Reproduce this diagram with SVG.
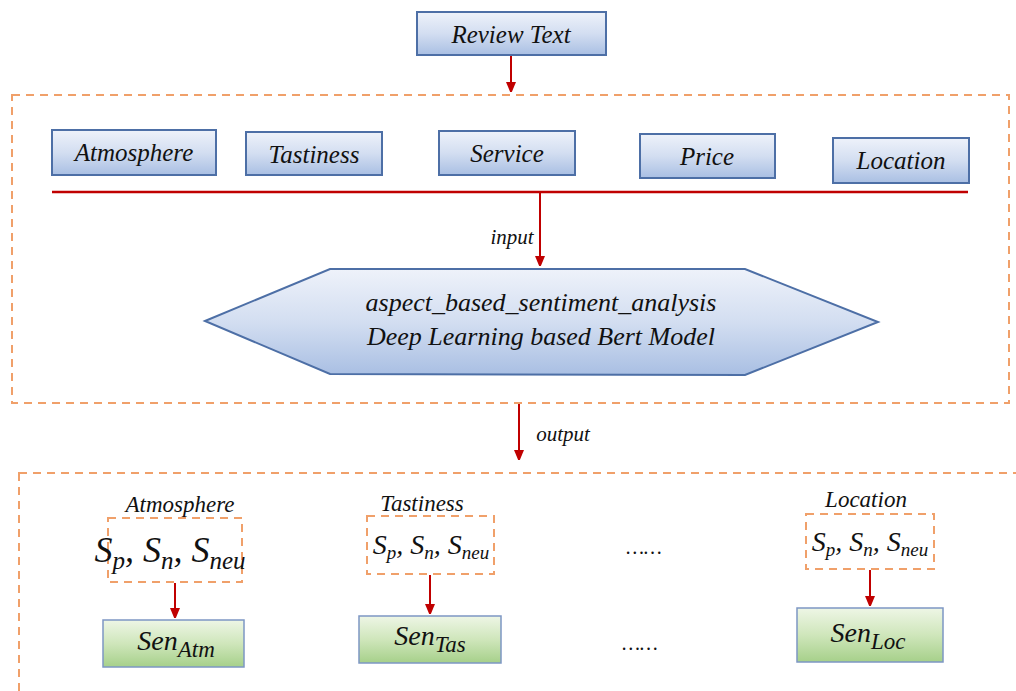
<svg xmlns="http://www.w3.org/2000/svg" width="1016" height="691" viewBox="0 0 1016 691">
<defs>
<linearGradient id="gb" x1="0" y1="0" x2="0" y2="1">
<stop offset="0" stop-color="#eef2fa"/><stop offset="0.5" stop-color="#d3def1"/><stop offset="1" stop-color="#a9bfe3"/>
</linearGradient>
<linearGradient id="gg" x1="0" y1="0" x2="0" y2="1">
<stop offset="0" stop-color="#eef6e6"/><stop offset="0.5" stop-color="#cfe6bb"/><stop offset="1" stop-color="#a6d08a"/>
</linearGradient>
<marker id="ah" markerWidth="10" markerHeight="10" refX="6" refY="5" orient="auto" markerUnits="userSpaceOnUse">
<path d="M0,0 L12,5 L0,10 z" fill="#c00000"/>
</marker>
</defs>
<style>
.bx{fill:url(#gb);stroke:#4d6fa6;stroke-width:2}
.gx{fill:url(#gg);stroke:#7d97c4;stroke-width:1.5}
.dash{fill:none;stroke:#f0a06a;stroke-width:2;stroke-dasharray:8,6}
.t{font-family:'Liberation Serif','Times New Roman',serif;font-style:italic;fill:#111}
.m{font-family:'Liberation Serif','Times New Roman',serif;font-style:italic;fill:#111}
.c{stroke:#c00000;stroke-width:2;fill:none}
</style>
<rect width="1016" height="691" fill="#ffffff"/>
<rect class="dash" x="12" y="95" width="997" height="308"/>
<rect class="dash" x="19" y="473" width="1010" height="240"/>
<g id="review"><rect class="bx" x="417" y="12" width="189" height="43"/><text class="t" x="511" y="43" font-size="25" text-anchor="middle">Review Text</text></g>
<g id="atm"><rect class="bx" x="52" y="130" width="164" height="45"/><text class="t" x="134" y="161" font-size="25" text-anchor="middle">Atmosphere</text></g>
<g id="tas"><rect class="bx" x="246" y="132" width="136" height="43"/><text class="t" x="314" y="163" font-size="25" text-anchor="middle">Tastiness</text></g>
<g id="ser"><rect class="bx" x="439" y="131" width="136" height="44"/><text class="t" x="507" y="162" font-size="25" text-anchor="middle">Service</text></g>
<g id="pri"><rect class="bx" x="640" y="134" width="135" height="44"/><text class="t" x="707" y="165" font-size="25" text-anchor="middle">Price</text></g>
<g id="loc"><rect class="bx" x="833" y="138" width="136" height="45"/><text class="t" x="901" y="169" font-size="25" text-anchor="middle">Location</text></g>
<g id="model"><polygon class="bx" points="205,321 330,269 745,269 878,322 745,375 330,374"/>
<text class="t" x="541" y="311" font-size="26" text-anchor="middle">aspect_based_sentiment_analysis</text>
<text class="t" x="541" y="345" font-size="26" text-anchor="middle">Deep Learning based Bert Model</text></g>
<g id="out-atm"><text class="t" x="180" y="512" font-size="23" text-anchor="middle">Atmosphere</text>
<rect class="dash" x="108" y="518" width="134" height="64"/>
<text class="m" x="170" y="562" font-size="36" text-anchor="middle">S<tspan font-size="25" dy="7">p</tspan><tspan dy="-7">, S</tspan><tspan font-size="25" dy="7">n</tspan><tspan dy="-7">, S</tspan><tspan font-size="25" dy="7">neu</tspan></text>
<rect class="gx" x="103" y="620" width="141" height="47"/>
<text class="m" x="176" y="650" font-size="28" text-anchor="middle">Sen<tspan font-size="23" dy="7">Atm</tspan></text></g>
<g id="out-tas"><text class="t" x="422" y="511" font-size="23" text-anchor="middle">Tastiness</text>
<rect class="dash" x="367" y="516" width="127" height="58"/>
<text class="m" x="431" y="554" font-size="28" text-anchor="middle">S<tspan font-size="19" dy="5">p</tspan><tspan dy="-5">, S</tspan><tspan font-size="19" dy="5">n</tspan><tspan dy="-5">, S</tspan><tspan font-size="19" dy="5">neu</tspan></text>
<rect class="gx" x="359" y="616" width="142" height="47"/>
<text class="m" x="430" y="645" font-size="28" text-anchor="middle">Sen<tspan font-size="23" dy="7">Tas</tspan></text></g>
<g id="out-loc"><text class="t" x="866" y="507" font-size="23" text-anchor="middle">Location</text>
<rect class="dash" x="806" y="514" width="128" height="55"/>
<text class="m" x="870" y="551" font-size="28" text-anchor="middle">S<tspan font-size="19" dy="5">p</tspan><tspan dy="-5">, S</tspan><tspan font-size="19" dy="5">n</tspan><tspan dy="-5">, S</tspan><tspan font-size="19" dy="5">neu</tspan></text>
<rect class="gx" x="797" y="608" width="146" height="54"/>
<text class="m" x="868" y="642" font-size="28" text-anchor="middle">Sen<tspan font-size="23" dy="7">Loc</tspan></text></g>
<g id="ellipses"><text class="t" x="644" y="554" font-size="20" text-anchor="middle">……</text>
<text class="t" x="640" y="650" font-size="20" text-anchor="middle">……</text></g>
<g id="connectors">
<line class="c" x1="511" y1="56" x2="511" y2="88" marker-end="url(#ah)"/>
<line x1="52" y1="192" x2="968" y2="192" stroke="#c00000" stroke-width="2.5"/>
<line class="c" x1="540" y1="193" x2="540" y2="262" marker-end="url(#ah)"/>
<text class="t" x="512" y="244" font-size="21" text-anchor="middle">input</text>
<line class="c" x1="519" y1="404" x2="519" y2="456" marker-end="url(#ah)"/>
<text class="t" x="563" y="441" font-size="21" text-anchor="middle">output</text>
<line class="c" x1="175" y1="583" x2="175" y2="614" marker-end="url(#ah)"/>
<line class="c" x1="430" y1="575" x2="430" y2="610" marker-end="url(#ah)"/>
<line class="c" x1="870" y1="570" x2="870" y2="602" marker-end="url(#ah)"/>
</g>
</svg>
